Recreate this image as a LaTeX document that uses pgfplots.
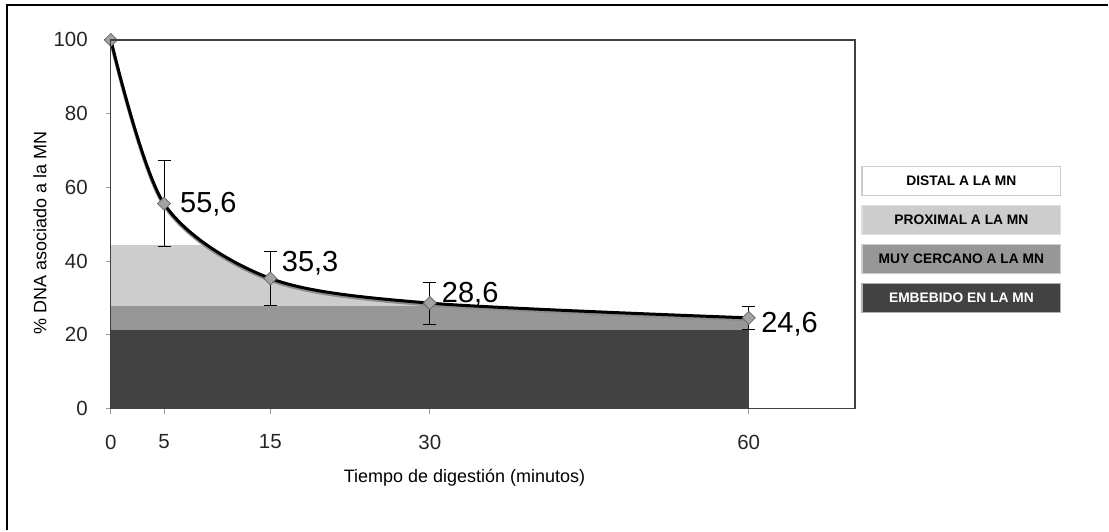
\documentclass[border=0pt]{standalone}
\usepackage{pgfplots}
\pgfplotsset{compat=1.18}
\usepgfplotslibrary{fillbetween}
\usepackage{fontspec}
\setmainfont{Liberation Sans}

\definecolor{cLight}{HTML}{CDCDCD}
\definecolor{cMid}{HTML}{979797}
\definecolor{cDark}{HTML}{424242}
\definecolor{cMark}{HTML}{A3A3A3}

% percentage of DNA still bound to the nuclear matrix vs. digestion time
\pgfplotstableread{
t   dna   err
0   100   0
5   55.6  11.7
15  35.3  7.4
30  28.6  5.7
60  24.6  3.2
}\dnatable

\begin{document}
\begin{tikzpicture}[x=1pt,y=1pt]
\path (0,0) rectangle (1109,531);
\draw[line width=2.5pt] (7,0) -- (7,526) -- (1109,526);

\begin{axis}[
  at={(111pt,122pt)}, anchor=south west,
  scale only axis, width=745pt, height=369pt,
  xmin=0, xmax=70, ymin=0, ymax=100,
  xtick={0,5,15,30,60}, ytick={0,20,...,100},
  tick pos=left,
  tick align=outside, major tick length=5pt,
  tick style={black!40, line width=0.8pt},
  axis line style={black!75, line width=1.2pt},
  axis on top,
  ticklabel style={font=\fontsize{20.5}{21}\selectfont, text=black!85, inner sep=0pt},
  xticklabel style={anchor=north, yshift=-21pt},
  yticklabel style={anchor=east, xshift=-18pt},
  /pgf/number format/assume math mode=true,
  clip=false,
]
% helper paths for the shaded bands
\addplot[draw=none, name path=curve, smooth, forget plot] table[x=t, y=dna] {\dnatable};
\addplot[draw=none, name path=base, forget plot] coordinates {(0,0) (60,0)};
\addplot[draw=none, name path=lvlB, forget plot] coordinates {(0,27.7) (60,27.7)};

% band "proximal": everything under the curve, capped at 44.3
\addplot[cLight] fill between[of=curve and base, on layer=main];
\addplot[fill=white, draw=none, forget plot] coordinates {(0,44.3) (0,100) (60,100) (60,44.3)};
% band "muy cercano": up to 27.7, but never above the curve
\addplot[fill=cMid, draw=none, forget plot] coordinates {(0,0) (0,27.7) (60,27.7) (60,0)};
\addplot[white] fill between[of=curve and lvlB, split, on layer=main,
  every segment no 0/.style={fill opacity=0},
  every segment no 1/.style={fill=white, draw=white, line width=1pt}];
% band "embebido"
\addplot[fill=cDark, draw=none, forget plot] coordinates {(0,0) (0,21.2) (60,21.2) (60,0)};

% error bars
\addplot[draw=none, mark=none,
  error bars/.cd, y dir=both, y explicit,
  error bar style={draw=black, line width=1pt},
  error mark options={rotate=90, mark size=6.5pt, line width=1pt, draw=black}]
  table[x=t, y=dna, y error=err] {\dnatable};

% curve with a soft grey shadow
\addplot[smooth, black!45, line width=3.2pt, yshift=-1.8pt] table[x=t, y=dna] {\dnatable};
\addplot[smooth, black, line width=3pt] table[x=t, y=dna] {\dnatable};

% diamond markers, kept above the frame
\addplot[only marks, mark=square*, mark size=4.6pt, on layer=axis foreground,
  mark options={rotate=45, fill=cMark, draw=black!60, line width=0.8pt}]
  table[x=t, y=dna] {\dnatable};

% value labels
\begin{scope}[every node/.style={font=\fontsize{29}{30}\selectfont, inner sep=0pt, anchor=base west}]
\node[xshift=16pt, yshift=-9.4pt] at (axis cs:5,55.6) {55,6};
\node[xshift=11.4pt, yshift=7.3pt] at (axis cs:15,35.3) {35,3};
\node[xshift=12pt, yshift=1.1pt] at (axis cs:30,28.6) {28,6};
\node[xshift=12.4pt, yshift=-14.4pt] at (axis cs:60,24.6) {24,6};
\end{scope}
\end{axis}

% axis titles
\node[font=\fontsize{18}{19}\selectfont] at (465,53) {Tiempo de digestión (minutos)};
\node[font=\fontsize{18}{19}\selectfont, rotate=90] at (40,298) {\% DNA asociado a la MN};

% legend
\begin{scope}[every node/.style={minimum width=199pt, minimum height=29pt, inner sep=0pt,
    line width=1.2pt, font=\bfseries\fontsize{13.8}{14}\selectfont}]
\node[draw=black!20, fill=white] at (962.5,350) {DISTAL A LA MN};
\node[draw=black!12, fill=cLight] at (962.5,310.5) {PROXIMAL A LA MN};
\node[draw=black!20, fill=cMid] at (962.5,271.5) {MUY CERCANO A LA MN};
\node[draw=black!30, fill=cDark, text=white] at (962.5,232.5) {EMBEBIDO EN LA MN};
\end{scope}
\end{tikzpicture}
\end{document}
